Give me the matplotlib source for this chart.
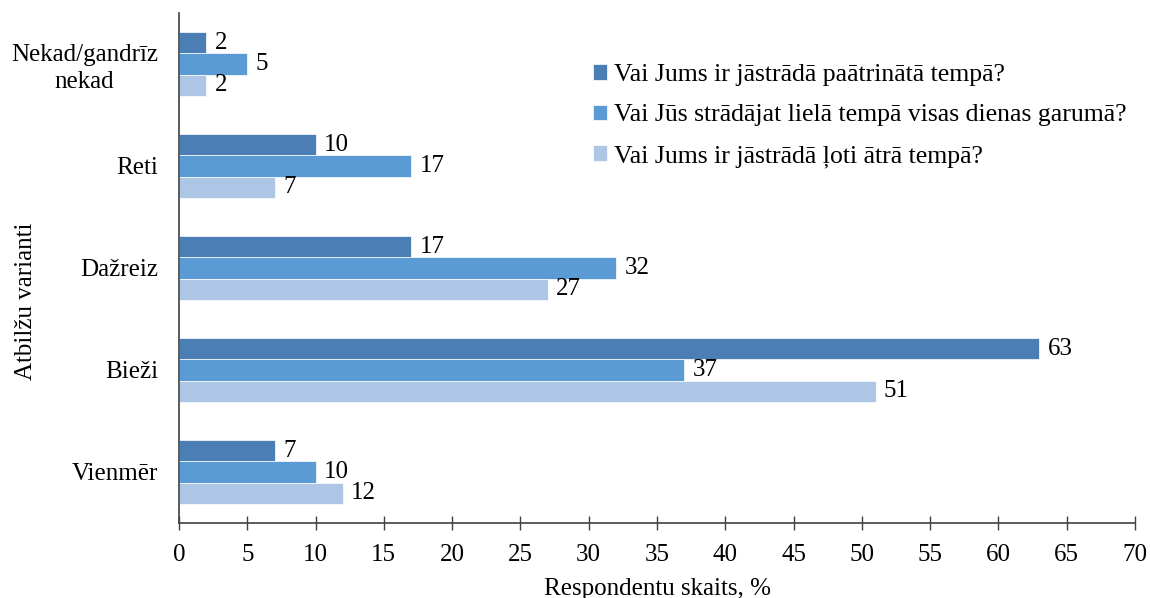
import matplotlib.pyplot as plt
import numpy as np

plt.rcParams['font.family'] = ['Liberation Serif', 'DejaVu Serif']

categories = ["Nekad/gandrīz\nnekad", "Reti", "Dažreiz", "Bieži", "Vienmēr"]
series_names = [
    "Vai Jums ir jāstrādā paātrinātā tempā?",
    "Vai Jūs strādājat lielā tempā visas dienas garumā?",
    "Vai Jums ir jāstrādā ļoti ātrā tempā?",
]
paatrinata = [2, 10, 17, 63, 7]
liela_tempa = [5, 17, 32, 37, 10]
loti_atra = [2, 7, 27, 51, 12]
colors = ["#4A7EB5", "#5B9BD5", "#ADC6E5"]

FS = 18

fig = plt.figure(figsize=(11.5, 5.98), dpi=100)
ax = fig.add_axes([179 / 1150, 1 - 523 / 598, (1135 - 179) / 1150, (523 - 13) / 598])

n = len(categories)
y = np.arange(n)
h = 0.207
offsets = [-h, 0, h]
for vals, off, col, name in zip([paatrinata, liela_tempa, loti_atra], offsets, colors, series_names):
    bars = ax.barh(y + off, vals, height=h, color=col, edgecolor="white", linewidth=0.5, label=name)
    for b, v in zip(bars, vals):
        ax.annotate(str(v), (b.get_width(), b.get_y() + b.get_height() / 2),
                    xytext=(6, 0), textcoords="offset points",
                    va="center", ha="left", fontsize=FS, color="black")

ax.set_ylim(n - 0.5, -0.5)
ax.set_xlim(0, 70)
ax.set_xticks(np.arange(0, 71, 5))
ax.set_yticks(y)
ax.set_yticklabels(categories, fontsize=FS, linespacing=1.25, multialignment="center")
ax.tick_params(axis="x", direction="inout", length=10, width=1, color="#404040", labelsize=FS, pad=10)
ax.tick_params(axis="y", length=0, pad=15)

for s in ["top", "right"]:
    ax.spines[s].set_visible(False)
for s in ["left", "bottom"]:
    ax.spines[s].set_color("#404040")
    ax.spines[s].set_linewidth(1.2)

ax.set_xlabel("Respondentu skaits, %", fontsize=FS, labelpad=9)
ax.set_ylabel("Atbilžu varianti", fontsize=FS)
ax.yaxis.set_label_coords((37 - 179) / 956, 0.435)

leg = ax.legend(loc="upper left", bbox_to_anchor=(0.433, 0.9), frameon=False, fontsize=18.5,
                handlelength=0.55, handleheight=0.55, handletextpad=0.25, labelspacing=0.72,
                borderaxespad=0, borderpad=0)

fig.savefig("out.png", dpi=100)
